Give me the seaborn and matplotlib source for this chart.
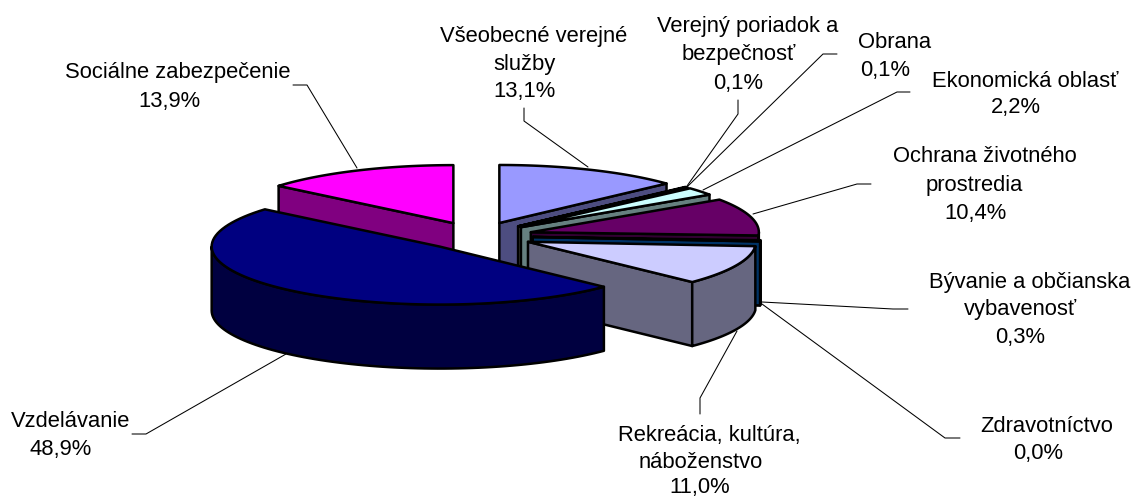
import numpy as np
import matplotlib
matplotlib.use('Agg')
import matplotlib.pyplot as plt
from matplotlib.patches import Polygon
import seaborn as sns

# Data, clockwise from 12 o'clock
names = ['Všeobecné verejné\nslužby', 'Verejný poriadok a\nbezpečnosť', 'Obrana', 'Ekonomická oblasť',
         'Ochrana životného\nprostredia', 'Bývanie a občianska\nvybavenosť', 'Zdravotníctvo',
         'Rekreácia, kultúra,\nnáboženstvo', 'Vzdelávanie', 'Sociálne zabezpečenie']
values = [13.1, 0.1, 0.1, 2.2, 10.4, 0.3, 0.0, 11.0, 48.9, 13.9]
colors = ['#9999FF', '#993366', '#FFFFCC', '#CCFFFF', '#660066',
          '#FF8080', '#0066CC', '#CCCCFF', '#000080', '#FF00FF']

# Label lines as (centre x, baseline y), in pixels of the picture.
# The lines of one label are not centred on each other in the original
label_pos = [[(533.5, 42), (524, 70), (524.5, 97)],
             [(747.5, 32), (738.5, 60), (738, 89)],
             [(894.5, 48), (885.5, 76)],
             [(1025, 87), (1015.5, 113)],
             [(984.5, 162), (974.5, 191), (976, 219)],
             [(1029.5, 288), (1020, 315), (1020.5, 343)],
             [(1047, 432), (1038.5, 459)],
             [(709, 441), (700.5, 468), (700, 493)],
             [(70.5, 427), (60.5, 455)],
             [(177.5, 78), (169, 107)]]
leaders = [[(524, 108), (524, 121), (588, 167)],
           [(738, 100), (738, 114), (687, 186)],
           [(837, 54), (823, 54), (688, 186)],
           [(910, 92), (897, 92), (703, 190)],
           [(871, 184), (857, 184), (753, 214)],
           [(908, 309), (893, 309), (762, 302)],
           [(960, 438), (945, 438), (762, 304)],
           [(700, 414), (700, 398), (737, 331)],
           [(132, 434), (146, 434), (286, 354)],
           [(293, 85), (307, 85), (357, 168)]]

# Pie geometry
cx, cy = 477, 236
rx, ry = 228, 58
depth = 64
explode = 0.245
# navy goes last, it sits in front of everything else
draw_order = [0, 1, 2, 3, 4, 5, 6, 7, 9, 8]

sns.set_theme(style='white')
plt.rcParams['font.family'] = ['Liberation Sans', 'DejaVu Sans']

fig = plt.figure(figsize=(11.33, 4.97), dpi=100)
ax = fig.add_axes([0, 0, 1, 1])
ax.set_xlim(0, 1133)
ax.set_ylim(497, 0)
ax.axis('off')

total = sum(values)
edges = np.concatenate([[0], np.cumsum(values)]) / total * 2 * np.pi


def shaded(c):
    return tuple(v / 2 for v in matplotlib.colors.to_rgb(c))


def face(pts, color):
    ax.add_patch(Polygon(pts, closed=True, facecolor=color, edgecolor='black',
                         linewidth=1.8, joinstyle='round'))


def extrude(pts):
    pts = np.asarray(pts)
    return np.vstack([pts, pts[::-1] + [0, depth]])


for i in draw_order:
    t0, t1 = edges[i], edges[i + 1]
    mid = (t0 + t1) / 2
    ox = cx + explode * rx * np.sin(mid)
    oy = cy - explode * ry * np.cos(mid)

    def point(t):
        return np.column_stack([ox + rx * np.sin(t), oy - ry * np.cos(t)])

    apex = [ox, oy]
    side = shaded(colors[i])
    # cut faces that look towards the viewer
    if np.sin(t0) < -1e-6:
        face(extrude([apex, point(np.array([t0]))[0]]), side)
    if np.sin(t1) > 1e-6:
        face(extrude([apex, point(np.array([t1]))[0]]), side)
    # outer rim, front half only
    lo, hi = max(t0, np.pi / 2), min(t1, 3 * np.pi / 2)
    if hi > lo:
        face(extrude(point(np.linspace(lo, hi, 80))), side)
    # top
    face(np.vstack([[apex], point(np.linspace(t0, t1, 80))]), colors[i])

for line in leaders:
    xs, ys = zip(*line)
    ax.plot(xs, ys, color='black', lw=0.75, solid_joinstyle='miter', zorder=5)

for name, v, pos in zip(names, values, label_pos):
    rows = name.split('\n') + [f'{v:.1f}%'.replace('.', ',')]
    for row, (x, y) in zip(rows, pos):
        ax.text(x, y, row, ha='center', va='baseline', fontsize=15.8, color='black', zorder=6)

fig.savefig('out.png', dpi=100)
